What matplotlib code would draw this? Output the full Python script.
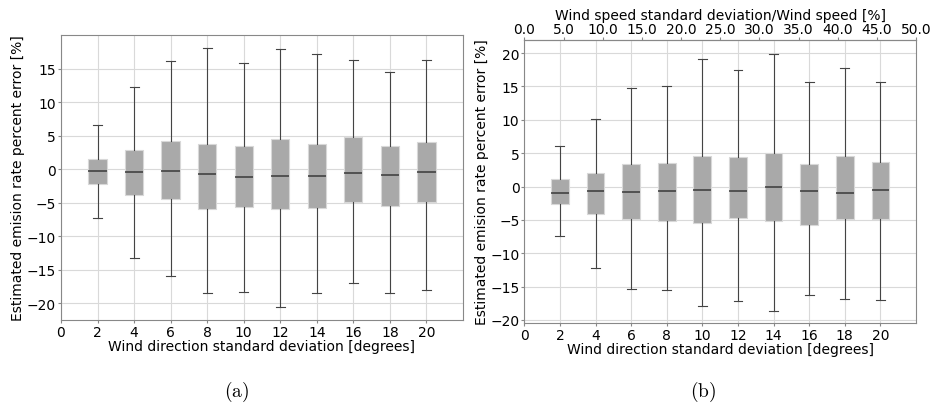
import matplotlib
matplotlib.use('Agg')
import matplotlib.pyplot as plt
from matplotlib.ticker import FormatStrFormatter

plt.rcParams['mathtext.fontset'] = 'cm'

wind_dir_sd = [2, 4, 6, 8, 10, 12, 14, 16, 18, 20]

# (a) wind direction only
a_whislo = [-7.3, -13.3, -15.9, -18.55, -18.4, -20.6, -18.55, -16.95, -18.55, -18.05]
a_q1 = [-2.2, -3.8, -4.45, -6.0, -5.65, -5.95, -5.75, -4.95, -5.5, -4.95]
a_med = [-0.3, -0.45, -0.35, -0.8, -1.2, -1.0, -1.03, -0.6, -0.9, -0.5]
a_q3 = [1.48, 2.9, 4.2, 3.7, 3.5, 4.5, 3.7, 4.8, 3.5, 4.0]
a_whishi = [6.55, 12.2, 16.1, 18.1, 15.8, 17.9, 17.2, 16.2, 14.5, 16.2]

# (b) wind direction + wind speed
b_whislo = [-7.44, -12.2, -15.3, -15.5, -17.9, -17.1, -18.6, -16.2, -16.8, -17.0]
b_q1 = [-2.62, -4.1, -4.8, -5.1, -5.5, -4.75, -5.1, -5.8, -4.9, -4.9]
b_med = [-0.95, -0.7, -0.85, -0.6, -0.55, -0.6, -0.05, -0.7, -0.95, -0.55]
b_q3 = [1.15, 2.05, 3.45, 3.6, 4.55, 4.4, 5.0, 3.45, 4.6, 3.65]
b_whishi = [6.0, 10.1, 14.75, 15.0, 19.05, 17.5, 19.85, 15.6, 17.8, 15.6]

speed_ticks = [0, 5, 10, 15, 20, 25, 30, 35, 40, 45, 50]

FS = 10


def make_stats(lo, q1, med, q3, hi):
    return [dict(whislo=l, q1=a, med=m, q3=b, whishi=h, fliers=[])
            for l, a, m, b, h in zip(lo, q1, med, q3, hi)]


def draw_box(ax, stats, ylim, yticks):
    ax.bxp(stats, positions=wind_dir_sd, widths=1.0, patch_artist=True,
           showfliers=False,
           boxprops=dict(facecolor='#a9a9a9', edgecolor='#d8d8d8', linewidth=0.8),
           medianprops=dict(color='#3a3a3a', linewidth=1.1),
           whiskerprops=dict(color='#444444', linewidth=0.8),
           capprops=dict(color='#444444', linewidth=0.8))
    ax.set_xlim(0, 22)
    ax.set_ylim(*ylim)
    ax.set_xticks(range(0, 21, 2))
    ax.set_xticklabels([str(v) for v in range(0, 21, 2)])
    ax.set_yticks(yticks)
    ax.grid(True, color='#d9d9d9', linewidth=0.8)
    ax.set_axisbelow(True)
    for s in ax.spines.values():
        s.set_color('#888888')
    ax.tick_params(labelsize=FS, length=2, color='#888888', pad=1.5)
    ax.set_xlabel('Wind direction standard deviation [degrees]', fontsize=FS, labelpad=0)
    ax.set_ylabel('Estimated emision rate percent error [%]', fontsize=FS, labelpad=1)


fig = plt.figure(figsize=(9.31, 4.06), dpi=100)

ax1 = fig.add_axes([0.0655, 0.2094, 0.4318, 0.702])
draw_box(ax1, make_stats(a_whislo, a_q1, a_med, a_q3, a_whishi),
         (-22.5, 20), range(-20, 16, 5))

ax2 = fig.add_axes([0.5632, 0.2012, 0.4207, 0.6985])
draw_box(ax2, make_stats(b_whislo, b_q1, b_med, b_q3, b_whishi),
         (-20.5, 22), range(-20, 21, 5))

top = ax2.secondary_xaxis('top', functions=(lambda x: x * 50 / 22, lambda x: x * 22 / 50))
top.set_xticks(speed_ticks)
top.xaxis.set_major_formatter(FormatStrFormatter('%.1f'))
top.tick_params(labelsize=FS, length=2, color='#888888', pad=1)
top.spines['top'].set_color('#888888')
top.set_xlabel('Wind speed standard deviation/Wind speed [%]', fontsize=FS, labelpad=2)

fig.text(0.254, 0.035, r'$\mathrm{(a)}$', fontsize=14, ha='center', va='center')
fig.text(0.755, 0.035, r'$\mathrm{(b)}$', fontsize=14, ha='center', va='center')

fig.savefig('out.png', dpi=100)
